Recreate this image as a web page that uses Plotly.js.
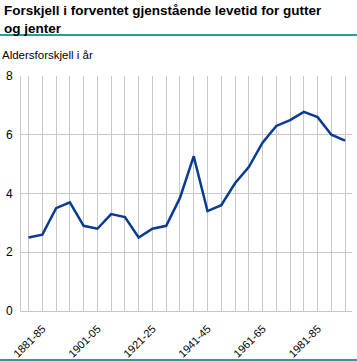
<!DOCTYPE html>
<html><head><meta charset="utf-8">
<script src="https://cdn.plot.ly/plotly-3.0.1.min.js"></script>
<style>html,body{margin:0;padding:0;background:#fff}#c{width:357px;height:361px}</style>
</head><body><div id="c"></div>
<script>
const periods = ["1881-85","1886-90","1891-95","1896-00","1901-05","1906-10","1911-15","1916-20",
  "1921-25","1926-30","1931-35","1936-40","1941-45","1946-50","1951-55","1956-60",
  "1961-65","1966-70","1971-75","1976-80","1981-85","1986-90","1991-95","1996-00"];
const diffYears = [2.5,2.6,3.5,3.7,2.9,2.8,3.3,3.2,2.5,2.8,2.9,3.85,5.27,3.4,3.6,4.35,4.9,5.73,6.3,6.5,6.78,6.6,6.0,5.8];
const labelEvery = [0,4,8,12,16,20];
const yTicks = [0,2,4,6,8];

const idx = periods.map((_, i) => i);
const font = "Liberation Sans, Arial, sans-serif";
const L = 21, R = 352, T = 76, B = 311, W = 357, H = 361;
const px = x => (x - L) / (R - L);
const py = y => (B - y) / (B - T);

Plotly.newPlot("c", [{
  x: idx, y: diffYears, type: "scatter", mode: "lines",
  line: {color: "#0b3a96", width: 2.5}, hoverinfo: "skip"
}], {
  width: W, height: H,
  margin: {l: L, r: W - R, t: T, b: H - B, pad: 0},
  paper_bgcolor: "#fff", plot_bgcolor: "#fff",
  showlegend: false,
  font: {family: font, size: 11, color: "#000"},
  xaxis: {
    range: [-0.55, 23.5], tickmode: "array",
    tickvals: labelEvery, ticktext: labelEvery.map(i => periods[i]),
    tickangle: -45, ticks: "", showgrid: true, gridcolor: "#c8c8c8", gridwidth: 1,
    minor: {tickmode: "linear", tick0: 0, dtick: 1, showgrid: true, gridcolor: "#c8c8c8", gridwidth: 1, ticks: ""},
    showline: true, linecolor: "#c8c8c8", linewidth: 1, zeroline: false,
    tickfont: {family: font, size: 11, color: "#000"}, ticklabelshift: 14, ticklabelstandoff: 6,
    fixedrange: true
  },
  yaxis: {
    range: [0, 8], tickmode: "array", tickvals: yTicks, ticks: "",
    showgrid: true, gridcolor: "#c8c8c8", gridwidth: 1,
    showline: true, linecolor: "#c8c8c8", linewidth: 1, zeroline: false,
    tickfont: {family: font, size: 12, color: "#000"}, ticklabelstandoff: 5,
    fixedrange: true
  },
  annotations: [{
    text: "<b>Forskjell i forventet gjenstående levetid for gutter<br>og jenter</b>",
    xref: "paper", yref: "paper", x: px(2), y: py(1), xanchor: "left", yanchor: "top",
    align: "left", showarrow: false, font: {family: font, size: 13.5, color: "#000"}
  }, {
    text: "Aldersforskjell i år", xref: "paper", yref: "paper",
    x: px(0), y: py(63), xanchor: "left", yanchor: "bottom", showarrow: false,
    font: {family: font, size: 11.5, color: "#000"}
  }],
  shapes: [
    {type: "line", xref: "paper", yref: "paper", x0: px(0), x1: px(W), y0: py(35), y1: py(35),
     line: {color: "#2a9d9d", width: 2}},
    {type: "line", xref: "paper", yref: "paper", x0: px(0), x1: px(W), y0: py(360), y1: py(360),
     line: {color: "#2a9d9d", width: 2}}
  ]
}, {displayModeBar: false, staticPlot: true});
</script></body></html>
